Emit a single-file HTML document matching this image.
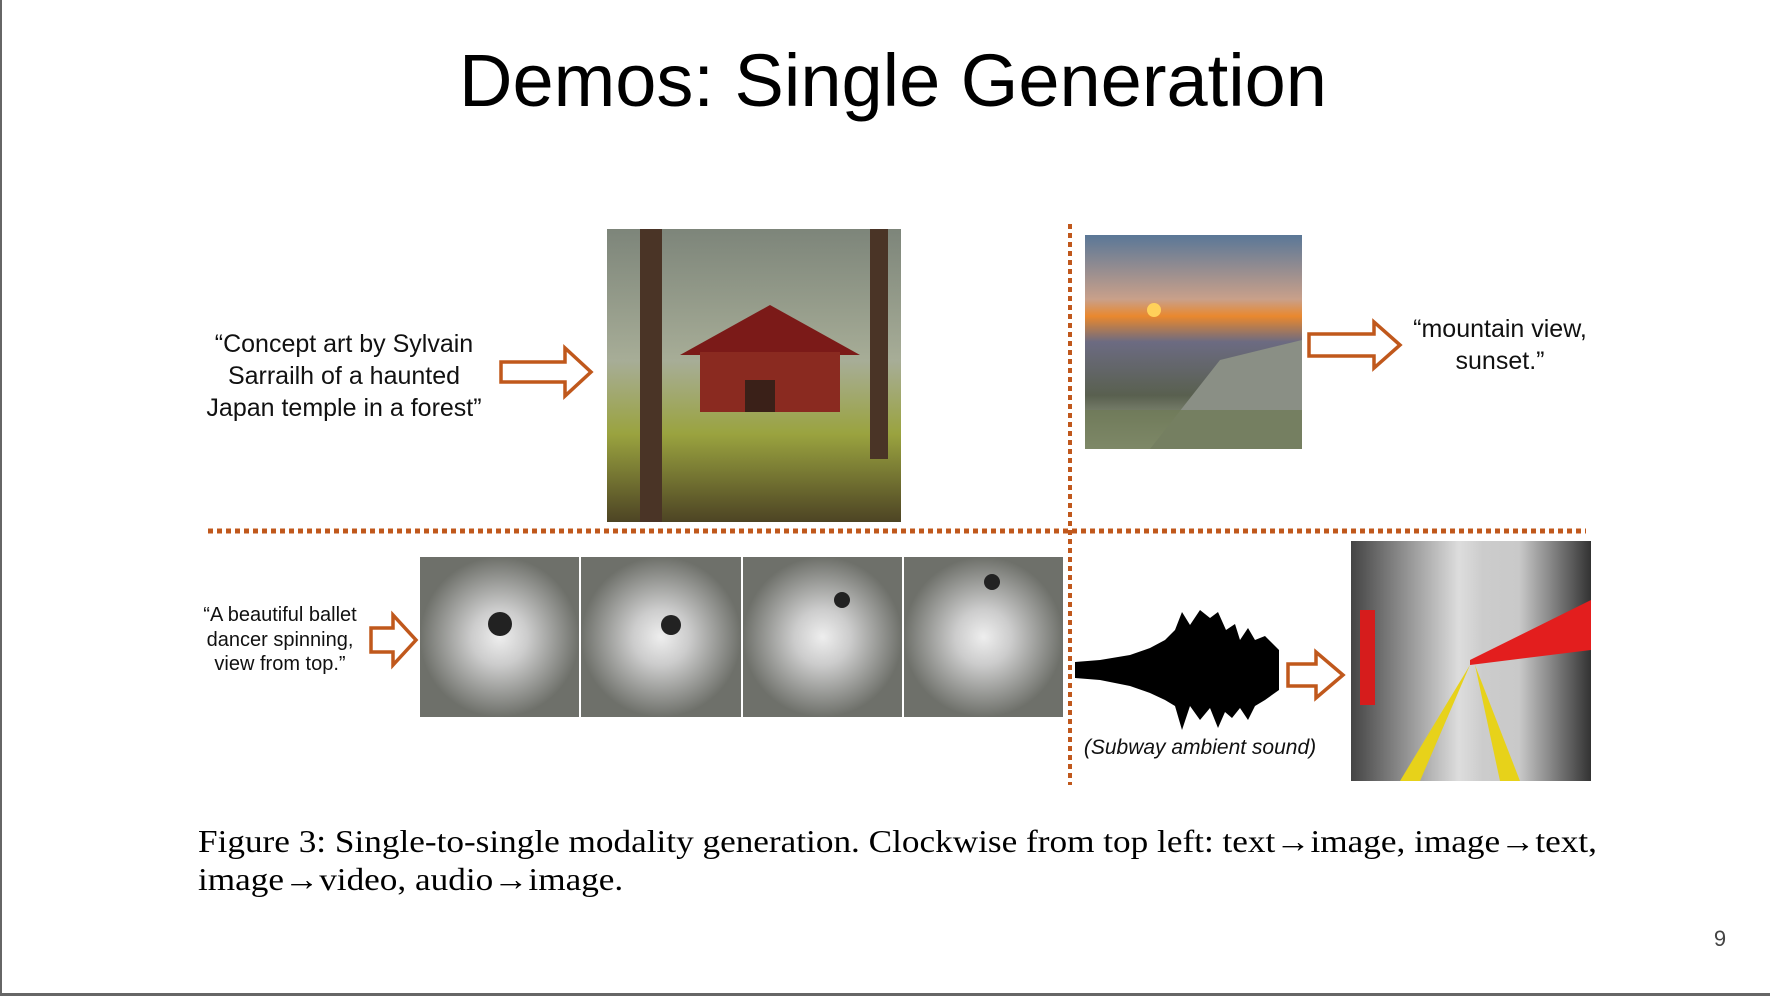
<!DOCTYPE html>
<html><head><meta charset="utf-8"><style>
html,body{margin:0;padding:0}
body{width:1770px;height:996px;position:relative;background:#fff;overflow:hidden;font-family:"Liberation Sans",sans-serif;color:#111}
.a{position:absolute}
.t{position:absolute;text-align:center;white-space:nowrap}
</style></head><body>
<div class="a" style="left:0;top:0;width:2px;height:996px;background:#666"></div>
<div class="a" style="left:0;top:993px;width:1770px;height:3px;background:#666"></div>
<div class="t" style="left:0;width:1786px;top:37px;font-size:74px;line-height:88px;color:#000">Demos: Single Generation</div>

<svg class="a" style="left:0;top:0" width="1770" height="996">
<defs>
<linearGradient id="tg" x1="0" y1="0" x2="0" y2="1"><stop offset="0" stop-color="#7d857a"/><stop offset=".45" stop-color="#a7ad97"/><stop offset=".7" stop-color="#9aa33f"/><stop offset="1" stop-color="#4d4424"/></linearGradient>
<linearGradient id="mg" x1="0" y1="0" x2="0" y2="1"><stop offset="0" stop-color="#5a7797"/><stop offset=".3" stop-color="#c9a08a"/><stop offset=".38" stop-color="#e9882e"/><stop offset=".5" stop-color="#6c6b82"/><stop offset=".75" stop-color="#59604f"/><stop offset="1" stop-color="#b8bfa6"/></linearGradient>
<linearGradient id="sg" x1="0" y1="0" x2="1" y2="0"><stop offset="0" stop-color="#444"/><stop offset=".45" stop-color="#ddd"/><stop offset=".55" stop-color="#ccc"/><stop offset=".7" stop-color="#c9c9c9"/><stop offset="1" stop-color="#333"/></linearGradient>
<radialGradient id="bg"><stop offset="0" stop-color="#eee"/><stop offset=".35" stop-color="#ccc"/><stop offset="1" stop-color="#6e706a"/></radialGradient>
</defs>
<rect x="607" y="229" width="294" height="293" fill="url(#tg)"/>
<rect x="640" y="229" width="22" height="293" fill="#4a3426"/>
<rect x="870" y="229" width="18" height="230" fill="#4a3426"/>
<polygon points="680,355 770,305 860,355" fill="#7b1a18"/>
<rect x="700" y="352" width="140" height="60" fill="#8a2a20"/>
<rect x="745" y="380" width="30" height="32" fill="#3a2018"/>
<rect x="1085" y="235" width="217" height="214" fill="url(#mg)"/>
<circle cx="1154" cy="310" r="7" fill="#ffd15a"/>
<polygon points="1150,449 1220,360 1302,340 1302,449" fill="#8a8f85"/>
<rect x="1085" y="410" width="217" height="39" fill="#6f7a58" opacity=".8"/>
<rect x="420" y="557" width="643" height="160" fill="#fff"/>
<rect x="420" y="557" width="159" height="160" fill="url(#bg)"/>
<rect x="581" y="557" width="160" height="160" fill="url(#bg)"/>
<rect x="743" y="557" width="159" height="160" fill="url(#bg)"/>
<rect x="904" y="557" width="159" height="160" fill="url(#bg)"/>
<circle cx="500" cy="624" r="12" fill="#222"/><circle cx="671" cy="625" r="10" fill="#222"/><circle cx="842" cy="600" r="8" fill="#222"/><circle cx="992" cy="582" r="8" fill="#222"/>
<rect x="1351" y="541" width="240" height="240" fill="url(#sg)"/>
<polygon points="1470,660 1591,600 1591,650 1470,665" fill="#e31e1e"/>
<polygon points="1470,665 1400,781 1420,781" fill="#e7d21a"/>
<polygon points="1475,665 1500,781 1520,781" fill="#e7d21a"/>
<rect x="1360" y="610" width="15" height="95" fill="#d61c1c"/>
<path d="M1075,662 L1100,660 1130,655 1150,648 1165,640 1175,630 1182,612 1190,625 1200,610 1210,618 1218,612 1226,630 1235,624 1240,640 1248,628 1255,640 1265,636 1279,650 L1279,690 1265,700 1255,706 1248,720 1240,708 1232,718 1225,712 1218,728 1210,708 1200,720 1190,706 1182,730 1175,706 1165,700 1150,693 1130,686 1100,680 1075,678 Z" fill="#000"/>
<line x1="208" y1="531" x2="1586" y2="531" stroke="#c0581c" stroke-width="5" stroke-dasharray="5 4"/>
<line x1="1070" y1="224" x2="1070" y2="785" stroke="#c0581c" stroke-width="4" stroke-dasharray="5 4"/>
<g fill="none" stroke="#c0581c" stroke-width="3.5">
<polygon points="501,362 565,362 565,348 591,372 565,396 565,382 501,382"/>
<polygon points="1309,334 1374,334 1374,322 1400,345 1374,368 1374,356 1309,356"/>
<polygon points="371,628 393,628 393,615 416,640 393,665 393,652 371,652"/>
<polygon points="1288,664 1316,664 1316,652 1343,675 1316,698 1316,686 1288,686"/>
</g>
</svg>

<div class="t" style="left:194px;width:300px;top:328px;font-size:25px;line-height:32px">“Concept art by Sylvain<br>Sarrailh of a haunted<br>Japan temple in a forest”</div>
<div class="t" style="left:1400px;width:200px;top:313px;font-size:25px;line-height:32px">“mountain view,<br>sunset.”</div>
<div class="t" style="left:180px;width:200px;top:603px;font-size:20px;line-height:24.5px">“A beautiful ballet<br>dancer spinning,<br>view from top.”</div>
<div class="t" style="left:1075px;width:250px;top:736px;font-size:21px;font-style:italic">(Subway ambient sound)</div>
<div class="a" style="left:198px;top:822px;font-family:'Liberation Serif',serif;font-size:32px;line-height:38px;color:#000;white-space:nowrap;transform:scaleX(1.1);transform-origin:0 0">Figure 3: Single-to-single modality generation. Clockwise from top left: text→image, image→text,<br>image→video, audio→image.</div>
<div class="t" style="left:1700px;width:40px;top:926px;font-size:22px;color:#444">9</div>
</body></html>
